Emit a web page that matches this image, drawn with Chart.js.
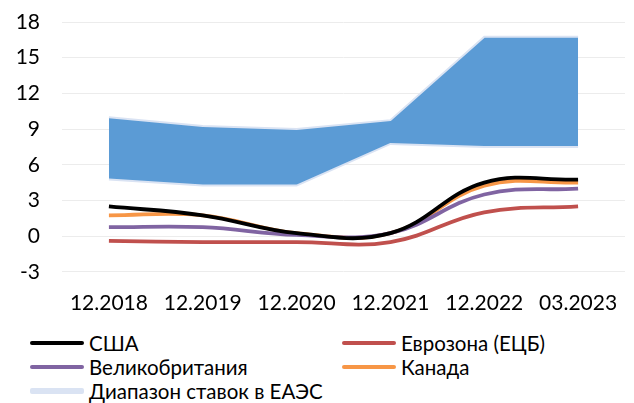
<!DOCTYPE html>
<html>
<head>
<meta charset="utf-8">
<script src="https://cdn.jsdelivr.net/npm/chart.js@4"></script>
<style>
  body { margin: 0; background: #fff; font-family: 'Lato', 'Open Sans', sans-serif; overflow: hidden; }
  #wrap { position: relative; width: 634px; height: 403px; }
  #chartBox { position: absolute; left: 0; top: 0; width: 634px; height: 327px; }
  #legend { position: absolute; left: 30px; top: 331px; display: grid; grid-template-columns: 312px 300px; row-gap: 1px; font-size: 20.5px; color: #000; }
  .item { display: flex; align-items: center; height: 23px; }
  .swatch { width: 54px; height: 4px; border-radius: 2px; margin-right: 5px; }
</style>
</head>
<body>
<div id="wrap">
  <div id="chartBox"><canvas id="rateChart"></canvas></div>
  <div id="legend"></div>
</div>
<script>
const labels = ['12.2018', '12.2019', '12.2020', '12.2021', '12.2022', '03.2023'];
const usa = [2.5, 1.75, 0.25, 0.25, 4.5, 4.75];
const euro = [-0.4, -0.5, -0.5, -0.5, 2.0, 2.5];
const uk = [0.75, 0.75, 0.1, 0.25, 3.5, 4.0];
const canada = [1.75, 1.75, 0.25, 0.25, 4.25, 4.5];
const eaesLow = [4.75, 4.25, 4.25, 7.75, 7.5, 7.5];
const eaesHigh = [10, 9.25, 9, 9.75, 16.75, 16.75];

const lineStyle = (label, data, color) => ({
  label: label,
  data: data,
  borderColor: color,
  backgroundColor: color,
  borderWidth: 3.8,
  pointRadius: 0,
  tension: 0.4,
  fill: false
});

const ctx = document.getElementById('rateChart').getContext('2d');

const rateChart = new Chart(ctx, {
  type: 'line',
  data: {
    labels: labels,
    datasets: [
      lineStyle('США', usa, '#000000'),
      lineStyle('Еврозона (ЕЦБ)', euro, '#c0504d'),
      lineStyle('Великобритания', uk, '#8064a2'),
      lineStyle('Канада', canada, '#f79646'),
      {
        label: 'low',
        data: eaesLow,
        borderColor: '#dae3f3',
        borderWidth: 2,
        pointRadius: 0,
        tension: 0,
        fill: false
      },
      {
        label: 'Диапазон ставок в ЕАЭС',
        data: eaesHigh,
        borderColor: '#dae3f3',
        backgroundColor: '#5b9bd5',
        borderWidth: 2,
        pointRadius: 0,
        tension: 0,
        fill: '-1'
      }
    ]
  },
  options: {
    responsive: true,
    maintainAspectRatio: false,
    animation: false,
    layout: { padding: { left: 16, right: 9, top: 22, bottom: 0 } },
    plugins: {
      legend: { display: false },
      tooltip: { enabled: false }
    },
    scales: {
      x: {
        offset: true,
        grid: { display: false },
        border: { display: false },
        ticks: { color: '#000', font: { family: 'Lato', size: 21 }, padding: 11, maxRotation: 0 },
        afterFit: (scale) => { scale.paddingLeft = 0; scale.paddingRight = 0; }
      },
      y: {
        min: -3,
        max: 18,
        grid: { color: '#ececec', lineWidth: 1, drawTicks: false },
        border: { display: false },
        ticks: { stepSize: 3, color: '#000', font: { family: 'Lato', size: 21 }, padding: 22 },
        afterFit: (scale) => { scale.width = 46; scale.paddingTop = 0; scale.paddingBottom = 0; }
      }
    }
  }
});

// legend in two columns, same order as the reference
const legendItems = [
  ['США', '#000000'],
  ['Еврозона (ЕЦБ)', '#c0504d'],
  ['Великобритания', '#8064a2'],
  ['Канада', '#f79646'],
  ['Диапазон ставок в ЕАЭС', '#dae3f3']
];
const legendEl = document.getElementById('legend');
legendItems.forEach(([text, color]) => {
  const item = document.createElement('div');
  item.className = 'item';
  const sw = document.createElement('span');
  sw.className = 'swatch';
  sw.style.background = color;
  if (color === '#dae3f3') sw.style.height = '6px';
  item.appendChild(sw);
  item.appendChild(document.createTextNode(text));
  legendEl.appendChild(item);
});
</script>
</body>
</html>
